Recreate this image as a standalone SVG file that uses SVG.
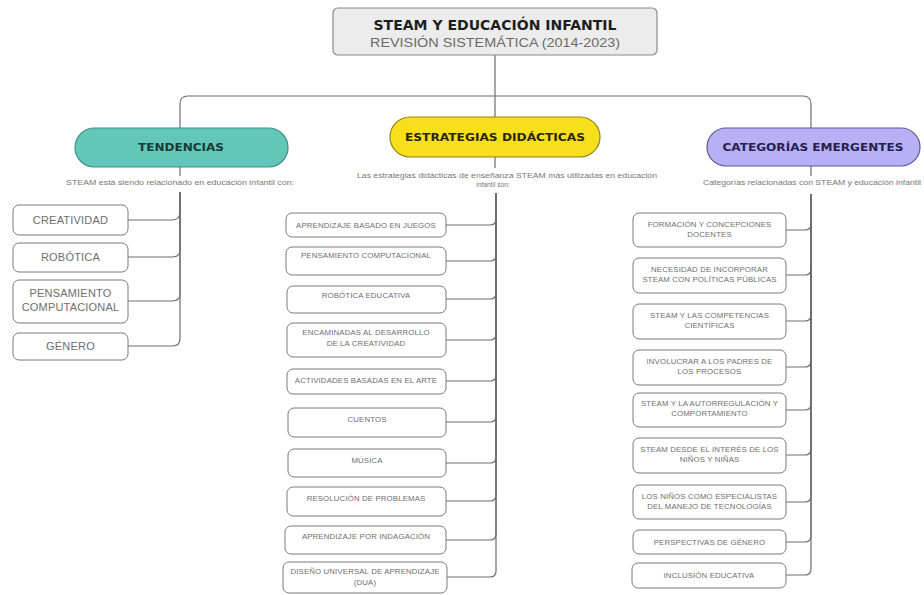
<svg xmlns="http://www.w3.org/2000/svg" width="924" height="595" viewBox="0 0 924 595">
<style>
.bg{fill:#ffffff}
.box{fill:#ffffff;stroke:#7a7a7a;stroke-width:1}
.t{font-family:"Liberation Sans",Arial,sans-serif;fill:#6e6e6e;text-anchor:middle}
.ts{font-size:11px;letter-spacing:0.2px}
.tm{font-size:7.8px;letter-spacing:0.15px}
.sub{font-family:"Liberation Sans",Arial,sans-serif;font-size:6.6px;fill:#777;text-anchor:middle}
.hd{font-family:"DejaVu Sans",sans-serif;font-weight:bold;text-anchor:middle}
.ln{fill:none;stroke:#6e6e6e;stroke-width:1.2}
</style>
<rect class="bg" x="0" y="0" width="924" height="595"/>
<g id="connectors">
<path class="ln" d="M495,55 V117"/>
<path class="ln" d="M495,96 H188 Q180,96 180,104 V128"/>
<path class="ln" d="M495,96 H803 Q811,96 811,104 V128"/>
<path class="ln" d="M180,167 V176"/>
<path class="ln" d="M495,157 V168"/>
<path class="ln" d="M811,166 V176"/>
<path class="ln" d="M180,192 V212 Q180,220 172,220 H128"/>
<path class="ln" d="M180,192 V250 Q180,257 172,257 H128"/>
<path class="ln" d="M180,192 V294 Q180,301 172,301 H128"/>
<path class="ln" d="M180,192 V339 Q180,346 172,346 H128"/>
<path class="ln" d="M496,193 V219 Q496,225 490,225 H446"/>
<path class="ln" d="M496,193 V255 Q496,261 490,261 H446"/>
<path class="ln" d="M496,193 V293 Q496,299 490,299 H446"/>
<path class="ln" d="M496,193 V334 Q496,340 490,340 H446"/>
<path class="ln" d="M496,193 V375 Q496,381 490,381 H446"/>
<path class="ln" d="M496,193 V416 Q496,422 490,422 H446"/>
<path class="ln" d="M496,193 V457 Q496,463 490,463 H446"/>
<path class="ln" d="M496,193 V495 Q496,501 490,501 H446"/>
<path class="ln" d="M496,193 V534 Q496,540 490,540 H446"/>
<path class="ln" d="M496,193 V571 Q496,577 490,577 H446"/>
<path class="ln" d="M811,194 V224 Q811,230 805,230 H786"/>
<path class="ln" d="M811,194 V269 Q811,275 805,275 H786"/>
<path class="ln" d="M811,194 V315 Q811,321 805,321 H786"/>
<path class="ln" d="M811,194 V361 Q811,367 805,367 H786"/>
<path class="ln" d="M811,194 V404 Q811,410 805,410 H786"/>
<path class="ln" d="M811,194 V449 Q811,455 805,455 H786"/>
<path class="ln" d="M811,194 V496 Q811,502 805,502 H786"/>
<path class="ln" d="M811,194 V536 Q811,542 805,542 H786"/>
<path class="ln" d="M811,194 V569 Q811,575 805,575 H786"/>
</g>

<g id="title">
<rect x="333" y="8" width="324" height="47" rx="5" fill="#ececec" stroke="#8a8a8a" stroke-width="1.2"/>
<text class="hd" x="495" y="30" font-size="13.5" fill="#1e1e1e" textLength="243" lengthAdjust="spacingAndGlyphs">STEAM Y EDUCACIÓN INFANTIL</text>
<text x="495" y="47" font-family="'Liberation Sans',Arial,sans-serif" font-size="12.5" fill="#6a6a6a" text-anchor="middle" textLength="250" lengthAdjust="spacingAndGlyphs">REVISIÓN SISTEMÁTICA (2014-2023)</text>
</g>

<g id="tendencias">
<rect x="75" y="128" width="213" height="39" rx="19.5" fill="#62c6b8" stroke="#3f8f84" stroke-width="1.2"/>
<text class="hd" x="181" y="151" font-size="10.5" fill="#173a36" textLength="86" lengthAdjust="spacingAndGlyphs">TENDENCIAS</text>
<text class="sub" x="180" y="185" textLength="228" lengthAdjust="spacingAndGlyphs">STEAM está siendo relacionado en educación infantil con:</text>
</g>

<g id="estrategias">
<rect x="390" y="117" width="210" height="40" rx="20" fill="#f8df1c" stroke="#8f8216" stroke-width="1.2"/>
<text class="hd" x="495" y="141" font-size="10.5" fill="#2a2605" textLength="180" lengthAdjust="spacingAndGlyphs">ESTRATEGIAS DIDÁCTICAS</text>
<text class="sub" x="507" y="178" textLength="300" lengthAdjust="spacingAndGlyphs">Las estrategias didácticas de enseñanza STEAM más utilizadas en educación</text>
<text class="sub" x="493" y="187">infantil son:</text>
</g>

<g id="categorias">
<rect x="707" y="128" width="213" height="38" rx="19" fill="#b8b0f4" stroke="#5f5896" stroke-width="1.2"/>
<text class="hd" x="813" y="151" font-size="10.5" fill="#25204d" textLength="181" lengthAdjust="spacingAndGlyphs">CATEGORÍAS EMERGENTES</text>
<text class="sub" x="812" y="185" textLength="218" lengthAdjust="spacingAndGlyphs">Categorías relacionadas con STEAM y educación infantil</text>
</g>

<g id="t1"><rect class="box" x="13" y="205" width="115" height="30" rx="6"/><text class="t ts" x="70.5" y="224">CREATIVIDAD</text></g>
<g id="t2"><rect class="box" x="13" y="243" width="115" height="29" rx="6"/><text class="t ts" x="70.5" y="261">ROBÓTICA</text></g>
<g id="t3"><rect class="box" x="13" y="280" width="115" height="43" rx="6"/><text class="t ts" x="70.5" y="297">PENSAMIENTO</text><text class="t ts" x="70.5" y="311">COMPUTACIONAL</text></g>
<g id="t4"><rect class="box" x="13" y="333" width="115" height="27" rx="6"/><text class="t ts" x="70.5" y="350">GÉNERO</text></g>

<g id="e1"><rect class="box" x="286" y="213" width="160" height="24" rx="6"/><text class="t tm" x="366" y="228">APRENDIZAJE BASADO EN JUEGOS</text></g>
<g id="e2"><rect class="box" x="286" y="247" width="160" height="28" rx="6"/><text class="t tm" x="366" y="258">PENSAMIENTO COMPUTACIONAL</text></g>
<g id="e3"><rect class="box" x="287" y="286" width="159" height="27" rx="6"/><text class="t tm" x="366" y="298">ROBÓTICA EDUCATIVA</text></g>
<g id="e4"><rect class="box" x="287" y="323" width="159" height="34" rx="6"/><text class="t tm" x="366" y="335">ENCAMINADAS AL DESARROLLO</text><text class="t tm" x="366" y="346">DE LA CREATIVIDAD</text></g>
<g id="e5"><rect class="box" x="287" y="369" width="159" height="25" rx="6"/><text class="t tm" x="366" y="383">ACTIVIDADES BASADAS EN EL ARTE</text></g>
<g id="e6"><rect class="box" x="288" y="408" width="158" height="29" rx="6"/><text class="t tm" x="367" y="422">CUENTOS</text></g>
<g id="e7"><rect class="box" x="288" y="449" width="158" height="28" rx="6"/><text class="t tm" x="367" y="463">MÚSICA</text></g>
<g id="e8"><rect class="box" x="287" y="487" width="159" height="29" rx="6"/><text class="t tm" x="366" y="501">RESOLUCIÓN DE PROBLEMAS</text></g>
<g id="e9"><rect class="box" x="285" y="526" width="161" height="28" rx="6"/><text class="t tm" x="366" y="539">APRENDIZAJE POR INDAGACIÓN</text></g>
<g id="e10"><rect class="box" x="283" y="562" width="164" height="31" rx="6"/><text class="t tm" x="365" y="574">DISEÑO UNIVERSAL DE APRENDIZAJE</text><text class="t tm" x="365" y="585">(DUA)</text></g>

<g id="c1"><rect class="box" x="633" y="213" width="153" height="34" rx="6"/><text class="t tm" x="709.5" y="227">FORMACIÓN Y CONCEPCIONES</text><text class="t tm" x="709.5" y="237">DOCENTES</text></g>
<g id="c2"><rect class="box" x="633" y="258" width="153" height="35" rx="6"/><text class="t tm" x="709.5" y="272">NECESIDAD DE INCORPORAR</text><text class="t tm" x="709.5" y="282">STEAM CON POLÍTICAS PÚBLICAS</text></g>
<g id="c3"><rect class="box" x="633" y="304" width="153" height="35" rx="6"/><text class="t tm" x="709.5" y="318">STEAM Y LAS COMPETENCIAS</text><text class="t tm" x="709.5" y="328">CIENTÍFICAS</text></g>
<g id="c4"><rect class="box" x="633" y="350" width="153" height="35" rx="6"/><text class="t tm" x="709.5" y="364">INVOLUCRAR A LOS PADRES DE</text><text class="t tm" x="709.5" y="374">LOS PROCESOS</text></g>
<g id="c5"><rect class="box" x="633" y="393" width="153" height="34" rx="6"/><text class="t tm" x="709.5" y="406">STEAM Y LA AUTORREGULACIÓN Y</text><text class="t tm" x="709.5" y="416">COMPORTAMIENTO</text></g>
<g id="c6"><rect class="box" x="633" y="438" width="153" height="35" rx="6"/><text class="t tm" x="709.5" y="452">STEAM DESDE EL INTERÉS DE LOS</text><text class="t tm" x="709.5" y="462">NIÑOS Y NIÑAS</text></g>
<g id="c7"><rect class="box" x="633" y="485" width="153" height="34" rx="6"/><text class="t tm" x="709.5" y="499">LOS NIÑOS COMO ESPECIALISTAS</text><text class="t tm" x="709.5" y="509">DEL MANEJO DE TECNOLOGÍAS</text></g>
<g id="c8"><rect class="box" x="633" y="530" width="153" height="24" rx="6"/><text class="t tm" x="709.5" y="545">PERSPECTIVAS DE GÉNERO</text></g>
<g id="c9"><rect class="box" x="632" y="563" width="154" height="25" rx="6"/><text class="t tm" x="709" y="578">INCLUSIÓN EDUCATIVA</text></g>
</svg>
